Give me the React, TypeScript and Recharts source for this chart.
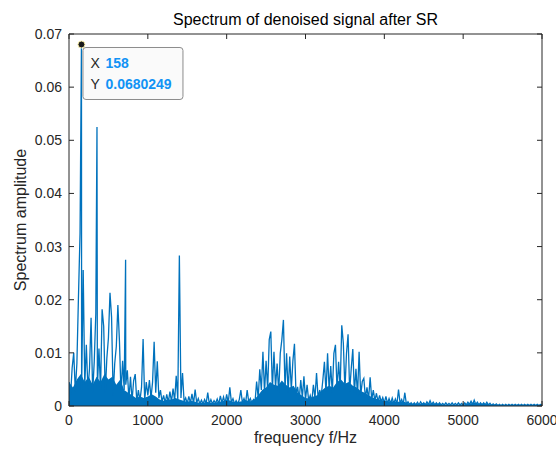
import React from "react";
import { ComposedChart, Line, Area, XAxis, YAxis, ReferenceDot } from "recharts";

const BLUE = "#0072bd";
const AXIS = "#262626";
const TIP_BLUE = "#1193f5";
const FONT = "'Liberation Sans', Arial, Helvetica, sans-serif";

// spectrum amplitude, one value every 20 Hz
const STEP_HZ = 20;
const band0 = [
  0.0045, 0.002, 0.0072, 0.01, 0.0028, 0.008, 0.0205, 0.0325, 0.003, 0.0256,
  0.004, 0.0115, 0.003, 0.007, 0.0166, 0.0025, 0.0083, 0.0174, 0.0035, 0.0108,
  0.003, 0.0182, 0.015, 0.0025, 0.009, 0.0128, 0.0213, 0.0167, 0.002, 0.008,
  0.0112, 0.019, 0.0122, 0.0022, 0.0085, 0.003, 0.004, 0.0067, 0.0012, 0.0055,
  0.001, 0.0048, 0.006, 0.0008, 0.003, 0.001, 0.0035, 0.0126, 0.001, 0.0045,
];
const band1 = [
  0.002, 0.0049, 0.0015, 0.0045, 0.0121, 0.0025, 0.0084, 0.0015, 0.003, 0.0008,
  0.002, 0.0006, 0.0022, 0.0007, 0.0027, 0.0008, 0.0033, 0.001, 0.0057, 0.0012,
  0.0283, 0.0015, 0.0062, 0.0008, 0.0015, 0.0005, 0.0018, 0.0006, 0.0023, 0.0005,
  0.0031, 0.0006, 0.0014, 0.0004, 0.0011, 0.0004, 0.0012, 0.0005, 0.0025, 0.0004,
  0.0012, 0.0004, 0.001, 0.0005, 0.0013, 0.0004, 0.0019, 0.0006, 0.0017, 0.0005,
];
const band2 = [
  0.0022, 0.0006, 0.0035, 0.0007, 0.0014, 0.0004, 0.001, 0.0004, 0.0012, 0.003,
  0.0006, 0.0014, 0.0005, 0.003, 0.0008, 0.0014, 0.0005, 0.0012, 0.0008, 0.0046,
  0.0015, 0.0069, 0.003, 0.0102, 0.0025, 0.0085, 0.003, 0.0125, 0.014, 0.003,
  0.0102, 0.0035, 0.008, 0.0025, 0.0099, 0.0125, 0.0162, 0.003, 0.0099, 0.0025,
  0.0093, 0.003, 0.0085, 0.0117, 0.002, 0.0036, 0.0012, 0.0049, 0.0015, 0.0056,
];
const band3 = [
  0.0012, 0.004, 0.001, 0.002, 0.0008, 0.004, 0.0015, 0.0062, 0.0015, 0.003,
  0.002, 0.0049, 0.0083, 0.0025, 0.0099, 0.003, 0.0075, 0.0025, 0.0099, 0.0115,
  0.003, 0.0083, 0.0035, 0.0152, 0.0118, 0.003, 0.0099, 0.0135, 0.0028, 0.007,
  0.0107, 0.0025, 0.007, 0.002, 0.0102, 0.002, 0.0046, 0.0052, 0.0015, 0.0035,
  0.0012, 0.0054, 0.0012, 0.003, 0.001, 0.0024, 0.0008, 0.002, 0.0008, 0.0016,
];
const band4 = [
  0.0006, 0.0018, 0.0005, 0.0014, 0.0005, 0.0015, 0.0005, 0.0013, 0.0004, 0.0031,
  0.0005, 0.0012, 0.0004, 0.0025, 0.0003, 0.0008, 0.0003, 0.0006, 0.0002, 0.0006,
  0.0002, 0.0007, 0.0002, 0.0008, 0.0003, 0.0006, 0.0002, 0.0008, 0.0003, 0.001,
  0.0003, 0.0007, 0.0002, 0.0006, 0.0002, 0.0006, 0.0002, 0.0005, 0.0002, 0.0006,
  0.0002, 0.0005, 0.0002, 0.0006, 0.0002, 0.0005, 0.0002, 0.0006, 0.0002, 0.0005,
];
const band5 = [
  0.0002, 0.0006, 0.0002, 0.0007, 0.0003, 0.0009, 0.0003, 0.0011, 0.0003, 0.0007,
  0.0002, 0.0006, 0.0002, 0.0006, 0.0002, 0.0007, 0.0002, 0.0005, 0.0001, 0.0004,
  0.0001, 0.0004, 0.0001, 0.0003, 0.0001, 0.0003, 0.0001, 0.0003, 0.0001, 0.0003,
  0.0001, 0.0003, 0.0001, 0.0003, 0.0001, 0.0003, 0.0001, 0.0003, 0.0001, 0.0003,
  0.0001, 0.0003, 0.0001, 0.0003, 0.0001, 0.0003, 0.0001, 0.0003, 0.0001, 0.0003,
  0.0002,
];

// tall lines that fall between the 20 Hz samples
const spikes = [
  { hz: 158, amp: 0.0680249 },
  { hz: 355, amp: 0.0525 },
  { hz: 718, amp: 0.0275 },
];

// level up to which the dense spectrum lines look solid, every 50 Hz
const CORE_STEP_HZ = 50;
const coreLevel = [
  0.0045, 0.0035, 0.005, 0.006, 0.0045, 0.0055, 0.004, 0.0055, 0.0045, 0.006,
  0.005, 0.0055, 0.004, 0.005, 0.003, 0.0025, 0.002, 0.0015, 0.0018, 0.0015,
  0.0018, 0.0022, 0.0018, 0.0012, 0.001, 0.0012, 0.0012, 0.0015, 0.0012, 0.001,
  0.0008, 0.001, 0.0008, 0.0006, 0.0006, 0.0008, 0.0006, 0.0006, 0.0008, 0.0009,
  0.0012, 0.001, 0.0007, 0.0008, 0.0009, 0.0011, 0.0009, 0.0012, 0.002, 0.003,
  0.0035, 0.0045, 0.004, 0.0038, 0.0048, 0.004, 0.0035, 0.0038, 0.0025, 0.002,
  0.0015, 0.0014, 0.0018, 0.002, 0.0028, 0.0035, 0.0038, 0.0035, 0.0045, 0.005,
  0.0042, 0.0045, 0.0038, 0.0035, 0.0028, 0.0025, 0.002, 0.0016, 0.0013, 0.0012,
  0.001, 0.0009, 0.0009, 0.0008, 0.0008, 0.0008, 0.0005, 0.0004, 0.0004, 0.0004,
  0.0004, 0.0005, 0.0005, 0.0004, 0.0004, 0.0003, 0.0003, 0.0003, 0.0003, 0.0003,
  0.0003, 0.0004, 0.0005, 0.0006, 0.0004, 0.0004, 0.0004, 0.0003, 0.0003, 0.0002,
  0.0002, 0.0002, 0.0002, 0.0002, 0.0002, 0.0002, 0.0002, 0.0002, 0.0002, 0.0002,
  0.0002,
];

const xTicks = [0, 1000, 2000, 3000, 4000, 5000, 6000];
const yTicks = [0, 0.01, 0.02, 0.03, 0.04, 0.05, 0.06, 0.07];
const tip = { hz: 158, amp: 0.0680249, xText: "158", yText: "0.0680249" };

const spectrum = [...band0, ...band1, ...band2, ...band3, ...band4, ...band5]
  .map((amp, i) => ({ hz: i * STEP_HZ, amp }))
  .concat(spikes)
  .sort((a, b) => a.hz - b.hz);

const core = coreLevel.map((amp, i) => ({ hz: i * CORE_STEP_HZ, amp }));

const BottomTick = (props: any) => {
  const { x, y, payload } = props;
  return (
    <g>
      <line x1={x} x2={x} y1={y} y2={y - 5} stroke={AXIS} />
      <text x={x} y={y + 19} textAnchor="middle" fill={AXIS} fontSize={14} fontFamily={FONT}>
        {payload.value}
      </text>
    </g>
  );
};

const LeftTick = (props: any) => {
  const { x, y, payload } = props;
  return (
    <g>
      <line x1={x} x2={x + 5} y1={y} y2={y} stroke={AXIS} />
      <text x={x - 7} y={y + 5} textAnchor="end" fill={AXIS} fontSize={14} fontFamily={FONT}>
        {payload.value}
      </text>
    </g>
  );
};

const TopTick = (props: any) => {
  const { x, y } = props;
  return <line x1={x} x2={x} y1={y} y2={y + 5} stroke={AXIS} />;
};

const RightTick = (props: any) => {
  const { x, y } = props;
  return <line x1={x} x2={x - 5} y1={y} y2={y} stroke={AXIS} />;
};

const DataTip = (props: any) => {
  const { cx, cy } = props;
  return (
    <g fontFamily={FONT} fontSize={14}>
      <rect x={cx + 1.5} y={cy + 3} width={100} height={52} rx={3} fill="#fafafa" stroke="#8c8c8c" />
      <text x={cx + 9} y={cy + 24} fill={AXIS}>X</text>
      <text x={cx + 24} y={cy + 24} fill={TIP_BLUE} fontWeight="bold">{tip.xText}</text>
      <text x={cx + 9} y={cy + 45} fill={AXIS}>Y</text>
      <text x={cx + 24} y={cy + 45} fill={TIP_BLUE} fontWeight="bold">{tip.yText}</text>
      <circle cx={cx} cy={cy} r={3.5} fill="#1a1a1a" stroke="#fff5b0" strokeWidth={1} />
    </g>
  );
};

export default function App() {
  return (
    <div style={{ position: "absolute", left: 0, top: 0, width: 556, height: 450, background: "#fff" }}>
      <ComposedChart width={556} height={450} margin={{ top: 33, right: 13, bottom: 0, left: 9 }}>
        <XAxis
          dataKey="hz"
          type="number"
          domain={[0, 6000]}
          ticks={xTicks}
          allowDataOverflow
          height={44}
          stroke={AXIS}
          tickLine={false}
          tickSize={0}
          tickMargin={0}
          tick={<BottomTick />}
          interval={0}
        />
        <XAxis
          xAxisId="top"
          dataKey="hz"
          orientation="top"
          type="number"
          domain={[0, 6000]}
          ticks={xTicks}
          allowDataOverflow
          height={1}
          stroke={AXIS}
          tickLine={false}
          tickSize={0}
          tickMargin={0}
          tick={<TopTick />}
          interval={0}
        />
        <YAxis
          type="number"
          domain={[0, 0.07]}
          ticks={yTicks}
          allowDataOverflow
          width={60}
          stroke={AXIS}
          tickLine={false}
          tickSize={0}
          tickMargin={0}
          tick={<LeftTick />}
          interval={0}
        />
        <YAxis
          yAxisId="right"
          orientation="right"
          type="number"
          domain={[0, 0.07]}
          ticks={yTicks}
          allowDataOverflow
          width={1}
          stroke={AXIS}
          tickLine={false}
          tickSize={0}
          tickMargin={0}
          tick={<RightTick />}
          interval={0}
        />
        <Area
          data={core}
          dataKey="amp"
          type="linear"
          stroke="none"
          fill={BLUE}
          fillOpacity={1}
          isAnimationActive={false}
        />
        <Line
          data={spectrum}
          dataKey="amp"
          stroke={BLUE}
          strokeWidth={1.3}
          dot={false}
          activeDot={false}
          type="linear"
          isAnimationActive={false}
        />
        {/* carries the top and right box axes */}
        <Line
          data={spectrum}
          xAxisId="top"
          yAxisId="right"
          dataKey="amp"
          stroke="none"
          dot={false}
          activeDot={false}
          isAnimationActive={false}
        />
        <ReferenceDot x={tip.hz} y={tip.amp} shape={<DataTip />} ifOverflow="visible" />
        <text x={305.5} y={25} textAnchor="middle" fontSize={16} fontFamily={FONT} fill="#000">
          Spectrum of denoised signal after SR
        </text>
        <text x={305.5} y={443} textAnchor="middle" fontSize={16} fontFamily={FONT} fill={AXIS}>
          frequency f/Hz
        </text>
        <text
          x={26}
          y={220}
          textAnchor="middle"
          fontSize={16}
          fontFamily={FONT}
          fill={AXIS}
          transform="rotate(-90 26 220)"
        >
          Spectrum amplitude
        </text>
      </ComposedChart>
    </div>
  );
}
